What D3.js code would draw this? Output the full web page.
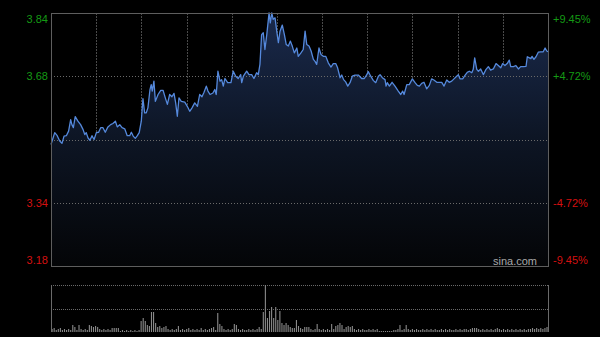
<!DOCTYPE html>
<html>
<head>
<meta charset="utf-8">
<script src="https://cdn.jsdelivr.net/npm/d3@7/dist/d3.min.js"></script>
<style>
  body { margin: 0; background: #000; }
  svg { display: block; }
  text { font-family: "Liberation Sans", Arial, sans-serif; font-size: 11px; }
</style>
</head>
<body>
<div id="app"></div>
<script>
// previous close and price limits
const prevClose = 3.51
const limitPct = 0.0945

// left labels (price) and right labels (change)
const priceLabels = ['3.84', '3.68', '3.34', '3.18']
const pctLabels = ['+9.45%', '+4.72%', '-4.72%', '-9.45%']
const pctLevels = [0.0945, 0.0472, -0.0472, -0.0945]

// intraday price, [minute, price]
const priceSeries = [
  [0,3.497],[1.8,3.528],[3.0,3.520],[4.2,3.506],[5.3,3.500],[6.3,3.519],[7.4,3.520],[8.5,3.532],[9.5,3.562],[10.1,3.549],
  [10.8,3.541],[11.7,3.570],[13.0,3.558],[14.3,3.549],[15.5,3.536],[16.3,3.523],[17.0,3.528],[17.9,3.514],[18.8,3.508],[19.8,3.520],
  [20.8,3.510],[21.9,3.528],[23.0,3.529],[24.0,3.541],[25.1,3.541],[26.2,3.529],[27.5,3.543],[28.8,3.549],[29.9,3.552],[31.1,3.558],
  [32.0,3.543],[33.2,3.549],[34.3,3.541],[35.6,3.538],[36.8,3.520],[38.0,3.520],[38.8,3.529],[39.7,3.519],[40.7,3.513],[41.7,3.520],
  [42.6,3.528],[43.6,3.558],[44.4,3.617],[45.2,3.580],[46.0,3.580],[46.8,3.593],[47.8,3.641],[48.4,3.654],[48.9,3.637],[49.7,3.663],
  [50.4,3.610],[51.7,3.628],[53.0,3.639],[54.1,3.639],[55.2,3.619],[56.2,3.602],[57.3,3.628],[58.4,3.622],[59.4,3.631],[60.2,3.606],
  [61.0,3.571],[61.8,3.619],[62.9,3.610],[64.6,3.608],[65.8,3.597],[67.0,3.584],[68.1,3.593],[69.4,3.606],[70.7,3.597],[71.8,3.628],
  [72.9,3.622],[73.9,3.634],[75.0,3.650],[75.8,3.637],[76.8,3.628],[78.2,3.632],[79.1,3.641],[79.8,3.628],[80.6,3.689],[81.6,3.663],
  [82.4,3.667],[83.2,3.650],[84.0,3.670],[85.3,3.659],[86.9,3.659],[88.0,3.689],[89.2,3.676],[90.4,3.670],[91.6,3.680],[92.1,3.659],
  [92.9,3.676],[94.5,3.689],[95.6,3.680],[96.9,3.680],[98.0,3.670],[99.3,3.685],[100.1,3.680],[100.9,3.707],[101.7,3.785],[102.5,3.790],
  [103.3,3.746],[104.2,3.785],[105.3,3.842],[105.9,3.816],[106.6,3.842],[107.3,3.825],[108.2,3.829],[109.0,3.794],[109.8,3.764],[110.6,3.794],
  [111.7,3.810],[112.7,3.785],[113.6,3.759],[114.6,3.755],[115.6,3.768],[116.5,3.755],[117.5,3.737],[118.7,3.750],[119.4,3.728],[120.7,3.737],
  [121.8,3.746],[122.7,3.794],[123.5,3.759],[124.6,3.755],[125.6,3.742],[126.7,3.720],[127.5,3.715],[128.3,3.707],[129.4,3.750],[130.4,3.733],
  [131.5,3.728],[132.7,3.728],[133.9,3.711],[135.2,3.700],[136.3,3.709],[137.5,3.709],[138.4,3.698],[139.6,3.672],[140.4,3.679],[141.3,3.667],
  [142.3,3.661],[143.3,3.650],[144.4,3.659],[145.5,3.676],[146.8,3.679],[148.4,3.679],[150.0,3.670],[151.3,3.670],[152.5,3.680],[153.2,3.688],
  [154.4,3.676],[155.6,3.665],[156.8,3.659],[158.1,3.676],[158.9,3.680],[160.0,3.672],[161.3,3.667],[161.8,3.650],[162.4,3.659],[163.4,3.650],
  [164.7,3.660],[166.1,3.650],[167.7,3.637],[168.9,3.628],[169.8,3.637],[170.5,3.628],[171.8,3.654],[173.0,3.654],[174.5,3.669],[175.8,3.659],
  [176.9,3.652],[177.9,3.650],[179.0,3.657],[180.1,3.660],[181.4,3.643],[182.7,3.652],[183.8,3.669],[184.9,3.666],[186.3,3.660],[188.7,3.660],
  [189.8,3.650],[191.1,3.666],[192.3,3.660],[193.5,3.663],[194.6,3.669],[195.9,3.676],[196.7,3.680],[197.5,3.669],[198.8,3.669],[199.9,3.678],
  [201.0,3.686],[202.0,3.689],[203.2,3.685],[203.9,3.694],[204.6,3.724],[205.6,3.694],[206.4,3.689],[207.5,3.695],[208.8,3.680],[210.1,3.694],
  [211.2,3.701],[212.3,3.692],[213.6,3.695],[214.9,3.709],[216.0,3.704],[217.2,3.698],[218.1,3.709],[219.2,3.704],[220.3,3.709],[221.3,3.718],
  [222.0,3.701],[223.3,3.701],[224.5,3.704],[225.7,3.695],[226.8,3.701],[228.1,3.701],[229.4,3.702],[230.0,3.727],[231.0,3.724],[231.7,3.722],
  [232.3,3.728],[233.2,3.720],[234.2,3.727],[235.3,3.739],[236.5,3.740],[237.7,3.740],[238.6,3.750],[239.4,3.742],[240,3.740]
]

// volume per minute (thousand lots)
const volumes = [
  3,4,2,3,4,2,3,2,3,2,7,5,2,7,3,2,3,2,7,6,
  5,6,5,3,2,3,2,3,2,4,4,4,4,1,2,1,2,1,2,1,
  2,1,2,11,14,11,7,6,20,20,9,5,6,4,5,6,3,2,3,2,
  3,6,2,3,2,3,4,2,3,2,3,2,4,2,3,2,3,4,5,2,
  19,8,6,3,2,3,2,3,8,7,3,2,3,2,2,3,2,3,2,3,
  5,3,20,47,14,21,25,14,25,12,21,9,7,9,7,5,4,4,12,6,
  4,3,5,5,5,3,2,3,8,3,2,3,2,3,2,8,3,6,7,9,
  7,3,5,6,5,6,3,2,3,2,3,2,2,3,2,3,2,3,1,1,
  1,1,1,1,1,2,2,3,7,2,3,7,3,2,3,2,3,2,2,3,
  2,3,2,3,2,3,2,2,3,2,3,2,3,2,2,3,2,3,2,3,
  3,2,3,4,4,4,3,2,3,2,3,2,3,2,3,4,3,2,3,2,
  3,2,3,2,3,2,3,2,3,2,3,3,4,3,4,3,4,3,4,5
]

const totalMinutes = 240
const gridCount = 11

const W = 600, H = 337
const plotLeft = 51, plotRight = 548
const plotTop = 13, plotBottom = 266
const volTop = 285, volBottom = 332

const svg = d3.select('#app').append('svg')
    .attr('width', W)
    .attr('height', H)
    .style('background', '#000')

const x = d3.scaleLinear().domain([0, totalMinutes]).range([plotLeft, plotRight])
const y = d3.scaleLinear()
    .domain([prevClose * (1 - limitPct), prevClose * (1 + limitPct)])
    .range([plotBottom, plotTop])
const yVol = d3.scaleLinear().domain([0, d3.max(volumes)]).range([volBottom, volTop])

// gradient under the price line
const grad = svg.append('defs').append('linearGradient')
    .attr('id', 'fillGrad')
    .attr('gradientUnits', 'userSpaceOnUse')
    .attr('x1', 0).attr('x2', 0).attr('y1', plotTop).attr('y2', plotBottom)
grad.append('stop').attr('offset', '0%').attr('stop-color', '#1a2a4c')
grad.append('stop').attr('offset', '50%').attr('stop-color', '#0d1524')
grad.append('stop').attr('offset', '100%').attr('stop-color', '#040507')

// vertical grid
const gridMinutes = d3.range(1, gridCount).map(k => k * totalMinutes / gridCount)
svg.append('g').selectAll('line')
    .data(gridMinutes)
    .enter().append('line')
    .attr('x1', d => Math.round(x(d)) + 0.5).attr('x2', d => Math.round(x(d)) + 0.5)
    .attr('y1', plotTop).attr('y2', plotBottom)
    .attr('stroke', '#4a4a4a')
    .attr('stroke-dasharray', '2,1')

// area + line
const area = d3.area()
    .x(d => x(d[0]))
    .y0(plotBottom)
    .y1(d => y(d[1]))
svg.append('path')
    .datum(priceSeries)
    .attr('d', area)
    .attr('fill', 'url(#fillGrad)')

// horizontal grid
const hLevels = pctLevels.filter(p => Math.abs(p) < limitPct).map(p => prevClose * (1 + p))
hLevels.push(prevClose)
svg.append('g').selectAll('line')
    .data(hLevels)
    .enter().append('line')
    .attr('x1', plotLeft).attr('x2', plotRight)
    .attr('y1', d => Math.round(y(d)) + 0.5).attr('y2', d => Math.round(y(d)) + 0.5)
    .attr('stroke', '#6a6a6a')
    .attr('stroke-dasharray', '1,2')

const line = d3.line()
    .x(d => x(d[0]))
    .y(d => y(d[1]))
svg.append('path')
    .datum(priceSeries)
    .attr('d', line)
    .attr('fill', 'none')
    .attr('stroke', '#5589dc')
    .attr('stroke-width', 1.3)
    .attr('stroke-linejoin', 'round')

// frame
svg.append('rect')
    .attr('x', plotLeft + 0.5).attr('y', plotTop + 0.5)
    .attr('width', plotRight - plotLeft).attr('height', plotBottom - plotTop)
    .attr('fill', 'none')
    .attr('stroke', '#5e5e5e')

// labels
const labelY = v => Math.min(plotBottom - 6, Math.max(plotTop + 6, y(v)))
svg.append('g').selectAll('text')
    .data(pctLevels)
    .enter().append('text')
    .attr('x', plotLeft - 3)
    .attr('y', d => labelY(prevClose * (1 + d)))
    .attr('dy', '0.35em')
    .attr('text-anchor', 'end')
    .attr('fill', d => d > 0 ? '#149a14' : '#d41010')
    .text((d, i) => priceLabels[i])

svg.append('g').selectAll('text')
    .data(pctLevels)
    .enter().append('text')
    .attr('x', plotRight + 5)
    .attr('y', d => labelY(prevClose * (1 + d)))
    .attr('dy', '0.35em')
    .attr('fill', d => d > 0 ? '#149a14' : '#d41010')
    .text((d, i) => pctLabels[i])

svg.append('text')
    .attr('x', 537).attr('y', plotBottom - 5)
    .attr('dy', '0.35em')
    .attr('text-anchor', 'end')
    .attr('fill', '#a8a8a8')
    .text('sina.com')

// volume panel
const volGrid = [d3.max(volumes), d3.max(volumes) / 2]
svg.append('g').selectAll('line')
    .data(volGrid)
    .enter().append('line')
    .attr('x1', plotLeft).attr('x2', plotRight)
    .attr('y1', d => Math.round(yVol(d)) + 0.5).attr('y2', d => Math.round(yVol(d)) + 0.5)
    .attr('stroke', '#6a6a6a')
    .attr('stroke-dasharray', '1,1')

svg.append('g').selectAll('rect')
    .data(volumes)
    .enter().append('rect')
    .attr('x', (d, i) => x(i + 0.5) - 0.5)
    .attr('width', 1.1)
    .attr('y', d => yVol(d))
    .attr('height', d => volBottom - yVol(d))
    .attr('fill', '#8a8a8a')

svg.append('g').selectAll('line')
    .data([plotLeft, plotRight])
    .enter().append('line')
    .attr('x1', d => d + 0.5).attr('x2', d => d + 0.5)
    .attr('y1', volTop).attr('y2', volBottom)
    .attr('stroke', '#6a6a6a')
</script>
</body>
</html>
